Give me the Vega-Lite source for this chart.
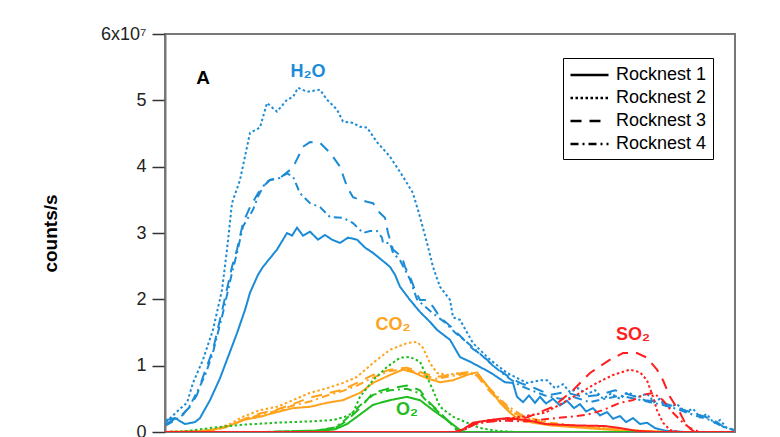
{
  "$schema": "https://vega.github.io/schema/vega-lite/v6.json",
  "width": 570,
  "height": 398,
  "autosize": {"type": "none"},
  "padding": {"left": 165, "top": 34, "right": 45, "bottom": 5},
  "background": "white",
  "config": {"view": {"stroke": "#777", "strokeWidth": 2}, "font": "Liberation Sans"},
  "layer": [
    {
      "data": {"values": [
        {"g": "H2O", "r": "Rocknest 1", "t": [1,10,20,30,35,45,55,62,72,80,85,93,98,105,112,122,127,132,138,145,153,160,167,175,183,192,200,208,217,225,230,235,245,255,265,272,285,295,305,315,325,332,340,348,352,358,364,370,375,381,388,395,402,409,415,421,428,435,442,448,455,461,468,475,482,490,500,520,569], "c": [0.18,0.21,0.12,0.15,0.21,0.48,0.81,1.09,1.49,1.84,2.10,2.37,2.49,2.62,2.75,3.00,2.96,3.08,2.96,3.02,2.90,2.97,2.90,2.85,2.93,2.90,2.78,2.70,2.59,2.49,2.37,2.19,1.99,1.81,1.66,1.54,1.39,1.13,1.06,0.98,0.90,0.83,0.75,0.74,0.53,0.45,0.55,0.44,0.53,0.43,0.50,0.40,0.47,0.36,0.42,0.31,0.36,0.25,0.30,0.20,0.24,0.15,0.21,0.12,0.14,0.06,0.02,0,0]},
        {"g": "H2O", "r": "Rocknest 2", "t": [1,8,15,22,28,38,48,57,62,67,75,85,95,102,112,122,128,133,142,155,162,172,178,188,195,202,212,225,238,248,255,262,268,275,285,288,295,308,325,342,362,375,382,390,398,405,413,422,430,438,446,455,463,472,482,489,495,503,512,520,528,535,542,549,555,562,569], "c": [0.15,0.25,0.35,0.44,0.74,1.09,1.54,2.14,2.75,3.45,3.80,4.51,4.59,4.96,4.83,5.01,5.05,5.19,5.13,5.16,5.01,4.86,4.68,4.66,4.60,4.59,4.37,4.15,3.85,3.60,3.24,2.85,2.49,2.19,1.99,1.73,1.69,1.34,1.09,0.89,0.74,0.78,0.78,0.66,0.72,0.60,0.66,0.57,0.63,0.50,0.58,0.50,0.60,0.52,0.58,0.45,0.50,0.36,0.42,0.30,0.35,0.22,0.27,0.13,0.18,0.06,0.03]},
        {"g": "H2O", "r": "Rocknest 3", "t": [1,10,15,25,32,38,48,58,67,72,78,85,93,98,105,115,125,130,138,145,155,165,175,182,188,195,202,208,215,220,223,225,228,237,240,245,250,255,262,268,275,285,295,308,318,328,342,355,370,385,400,418,435,450,465,480,495,510,525,540,552,560,569], "c": [0.12,0.20,0.23,0.38,0.56,0.83,1.24,1.89,2.49,2.75,3.15,3.39,3.60,3.70,3.80,3.83,3.95,4.05,4.30,4.37,4.36,4.21,4.00,3.70,3.54,3.50,3.47,3.45,3.30,3.23,3.00,2.90,2.75,2.64,2.49,2.34,2.14,1.99,1.99,1.89,1.73,1.60,1.45,1.25,1.15,1.00,0.85,0.74,0.66,0.56,0.60,0.53,0.56,0.63,0.56,0.48,0.45,0.38,0.30,0.23,0.15,0.06,0.03]},
        {"g": "H2O", "r": "Rocknest 4", "t": [1,10,18,25,32,40,48,58,67,72,78,88,93,100,105,115,122,128,135,145,155,165,178,188,198,205,212,217,218,225,228,235,245,252,260,268,280,290,300,315,328,342,355,368,380,395,410,425,440,455,470,485,500,515,530,545,558,569], "c": [0.10,0.18,0.26,0.40,0.60,0.85,1.20,1.80,2.40,2.70,3.10,3.35,3.55,3.75,3.80,3.83,3.90,3.85,3.60,3.45,3.39,3.24,3.23,3.15,3.00,3.03,3.03,2.93,2.85,2.85,2.70,2.59,2.30,2.00,1.89,1.79,1.65,1.50,1.38,1.18,1.00,0.83,0.70,0.62,0.55,0.50,0.52,0.45,0.50,0.55,0.50,0.45,0.40,0.33,0.25,0.18,0.08,0.03]},
        {"g": "CO2", "r": "Rocknest 1", "t": [0,30,45,62,78,95,112,128,145,162,178,195,208,225,238,248,262,275,288,302,312,318,328,335,345,355,368,385,420,460,500,569], "c": [0,0.01,0.03,0.08,0.18,0.23,0.30,0.36,0.38,0.44,0.48,0.59,0.74,0.86,0.94,0.90,0.81,0.75,0.78,0.86,0.90,0.78,0.59,0.44,0.29,0.18,0.14,0.10,0.06,0.02,0,0]},
        {"g": "CO2", "r": "Rocknest 2", "t": [0,35,50,65,78,95,112,128,145,162,178,192,208,225,242,252,258,265,272,282,295,305,315,325,335,345,355,368,385,420,460,500,569], "c": [0,0.01,0.04,0.12,0.23,0.33,0.38,0.48,0.59,0.66,0.74,0.83,1.04,1.24,1.34,1.36,1.27,1.04,0.89,0.86,0.89,0.90,0.83,0.63,0.48,0.33,0.23,0.18,0.12,0.08,0.03,0,0]},
        {"g": "CO2", "r": "Rocknest 3", "t": [0,35,50,65,80,95,112,128,145,162,178,192,208,225,242,258,272,285,302,312,322,332,342,355,368,385,420,460,500,569], "c": [0,0.01,0.03,0.10,0.20,0.28,0.34,0.42,0.52,0.58,0.64,0.74,0.86,0.94,0.97,0.89,0.83,0.86,0.90,0.85,0.66,0.50,0.36,0.24,0.18,0.12,0.07,0.03,0,0]},
        {"g": "CO2", "r": "Rocknest 4", "t": [0,35,50,65,80,95,112,128,145,162,178,192,208,225,242,258,272,285,302,312,322,332,342,355,368,385,420,460,500,569], "c": [0,0.01,0.03,0.09,0.19,0.26,0.32,0.40,0.46,0.55,0.62,0.70,0.82,0.92,0.95,0.86,0.80,0.84,0.88,0.86,0.70,0.54,0.40,0.27,0.20,0.14,0.08,0.03,0,0]},
        {"g": "O2", "r": "Rocknest 1", "t": [0,100,150,170,182,192,208,225,242,255,268,282,295,300,569], "c": [0,0,0.01,0.04,0.12,0.23,0.41,0.48,0.53,0.48,0.33,0.18,0.03,0,0]},
        {"g": "O2", "r": "Rocknest 2", "t": [0,20,45,78,112,145,168,180,188,195,208,222,235,245,255,262,268,275,288,302,315,330,350,569], "c": [0,0.01,0.06,0.11,0.14,0.16,0.18,0.23,0.29,0.53,0.78,0.98,1.12,1.13,1.06,0.83,0.63,0.38,0.23,0.14,0.06,0.02,0,0]},
        {"g": "O2", "r": "Rocknest 3", "t": [0,100,150,170,180,195,208,225,242,255,262,275,285,292,300,569], "c": [0,0,0.02,0.06,0.15,0.36,0.59,0.66,0.70,0.63,0.48,0.29,0.14,0.03,0,0]},
        {"g": "O2", "r": "Rocknest 4", "t": [0,100,150,170,180,195,208,225,242,255,262,275,285,292,300,569], "c": [0,0,0.02,0.07,0.18,0.40,0.56,0.63,0.65,0.58,0.46,0.28,0.14,0.03,0,0]},
        {"g": "SO2", "r": "Rocknest 1", "t": [0,290,298,308,325,342,362,380,410,440,455,470,490,569], "c": [0,0,0.04,0.14,0.18,0.21,0.18,0.12,0.10,0.09,0.06,0.02,0,0]},
        {"g": "SO2", "r": "Rocknest 2", "t": [0,290,300,310,325,342,360,380,398,415,432,448,465,475,482,488,492,498,505,515,569], "c": [0,0,0.04,0.14,0.18,0.20,0.24,0.29,0.44,0.59,0.74,0.86,0.94,0.90,0.78,0.53,0.33,0.14,0.03,0,0]},
        {"g": "SO2", "r": "Rocknest 3", "t": [0,290,300,310,325,342,362,375,388,408,425,445,458,472,482,492,498,505,515,522,530,569], "c": [0,0,0.04,0.12,0.16,0.18,0.22,0.30,0.38,0.63,0.89,1.09,1.19,1.19,1.12,0.94,0.78,0.53,0.29,0.08,0,0]},
        {"g": "SO2", "r": "Rocknest 4", "t": [0,290,300,310,325,342,360,385,405,422,438,455,468,478,488,498,508,518,525,535,569], "c": [0,0,0.04,0.12,0.16,0.17,0.16,0.20,0.23,0.26,0.33,0.44,0.48,0.56,0.59,0.48,0.29,0.14,0.06,0,0]}
      ]},
      "transform": [{"flatten": ["t", "c"]}],
      "mark": {"type": "line", "strokeWidth": 2, "clip": true},
      "encoding": {
        "x": {"field": "t", "type": "quantitative", "scale": {"domain": [0, 570], "nice": false}, "axis": null},
        "y": {"field": "c", "type": "quantitative", "scale": {"domain": [0, 6], "nice": false},
          "axis": {"title": "counts/s", "titleFontSize": 19, "titleFontWeight": "bold", "titleColor": "black", "titlePadding": 40,
            "values": [0, 1, 2, 3, 4, 5, 6], "format": "d", "labelExpr": "datum.value == 6 ? '6x10⁷' : datum.label",
            "labelFontSize": 18, "labelColor": "#222", "tickSize": 13, "tickColor": "#333", "tickWidth": 1.5, "labelPadding": 6,
            "domainColor": "#777", "domainWidth": 2, "grid": false, "labelFlush": false, "labelOverlap": false}},
        "color": {"field": "g", "type": "nominal", "scale": {"domain": ["H2O", "CO2", "O2", "SO2"], "range": ["#1c8bd6", "#ffa21c", "#1fbd1f", "#ff1f1f"]}, "legend": null},
        "strokeDash": {"field": "r", "type": "nominal",
          "scale": {"domain": ["Rocknest 1", "Rocknest 2", "Rocknest 3", "Rocknest 4"], "range": [[1, 0], [2.5, 2.5], [11, 8], [8, 4, 2, 4]]},
          "legend": {"title": null, "orient": "none", "legendX": 398, "legendY": 24, "symbolType": "M-1,0H3", "symbolStrokeColor": "black",
            "symbolStrokeWidth": 2.5, "symbolSize": 361, "labelFontSize": 18, "labelColor": "black", "strokeColor": "black",
            "fillColor": "white", "padding": 6, "rowPadding": 3, "labelOffset": 25}}
      }
    },
    {
      "data": {"values": [
        {"g": "H2O", "label": "H₂O", "t": 143, "c": 5.43},
        {"g": "CO2", "label": "CO₂", "t": 228, "c": 1.61},
        {"g": "O2", "label": "O₂", "t": 242, "c": 0.33},
        {"g": "SO2", "label": "SO₂", "t": 468, "c": 1.46}
      ]},
      "mark": {"type": "text", "fontSize": 18, "fontWeight": "bold", "align": "center", "baseline": "middle"},
      "encoding": {
        "x": {"field": "t", "type": "quantitative"},
        "y": {"field": "c", "type": "quantitative"},
        "text": {"field": "label"},
        "color": {"field": "g", "type": "nominal", "legend": null}
      }
    },
    {
      "data": {"values": [{"label": "A", "t": 38, "c": 5.34}]},
      "mark": {"type": "text", "fontSize": 19, "fontWeight": "bold", "align": "center", "baseline": "middle", "color": "black"},
      "encoding": {
        "x": {"field": "t", "type": "quantitative"},
        "y": {"field": "c", "type": "quantitative"},
        "text": {"field": "label"}
      }
    }
  ]
}
